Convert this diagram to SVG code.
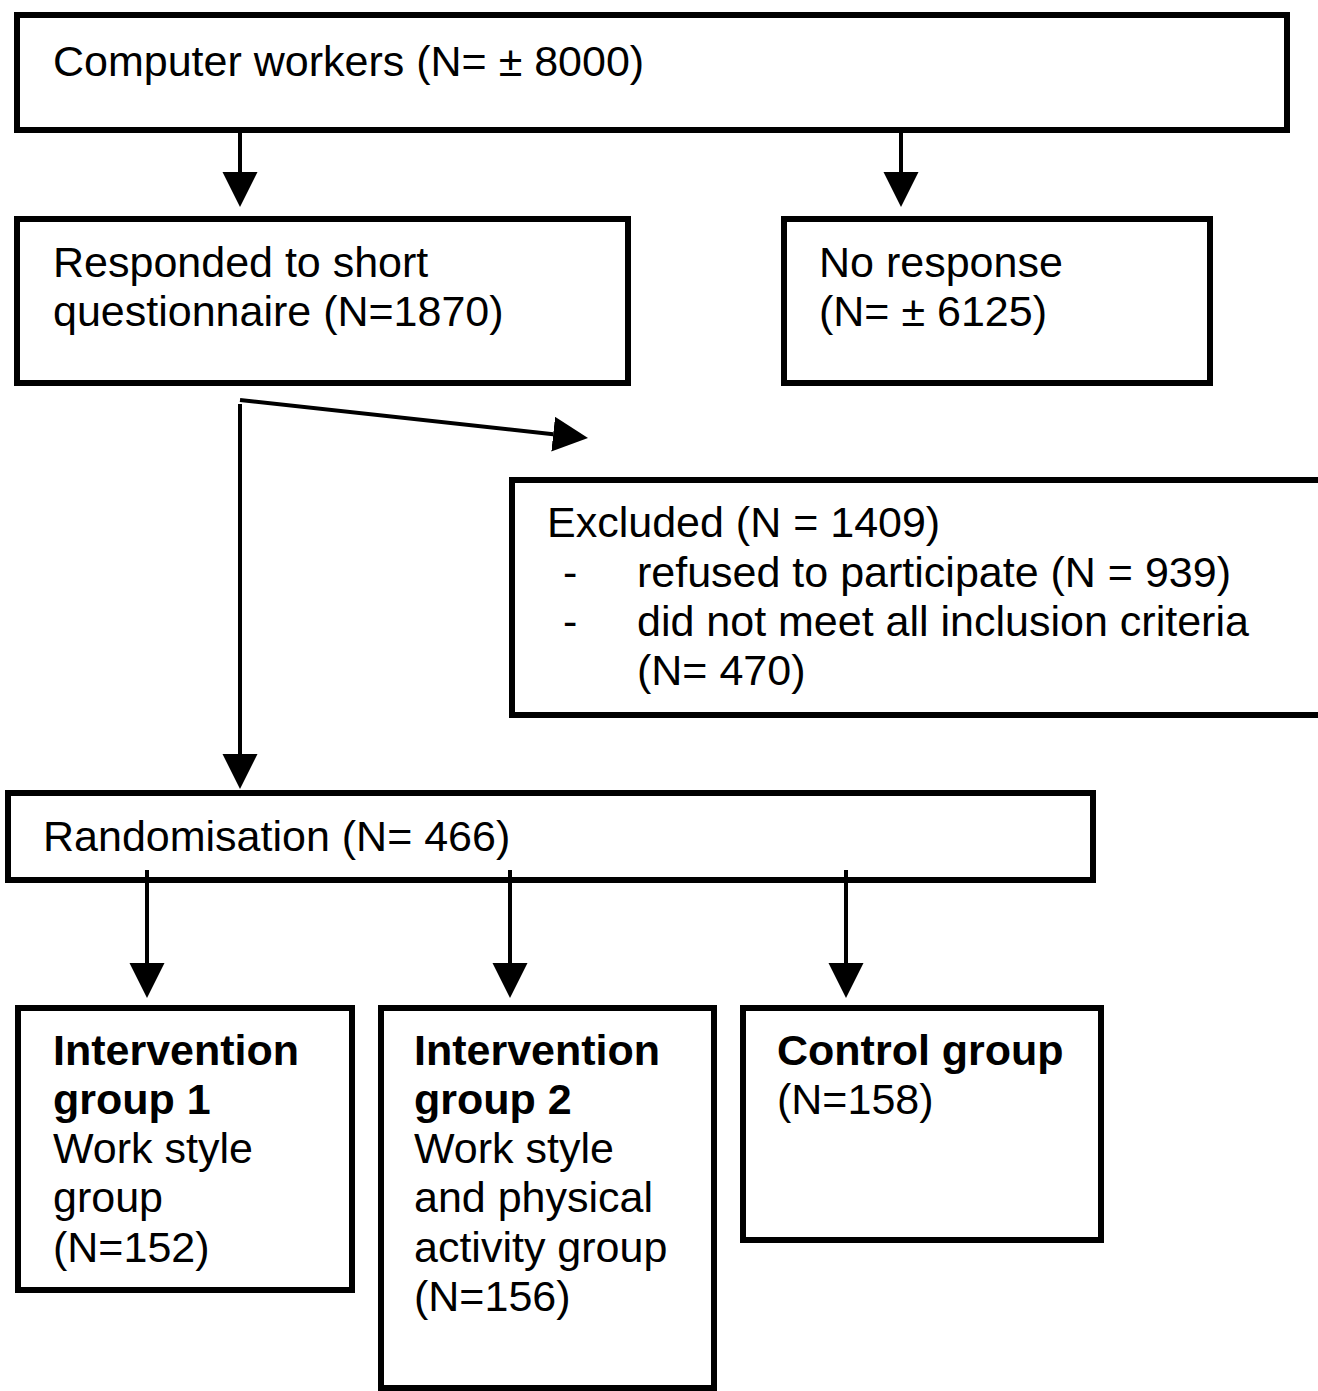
<svg xmlns="http://www.w3.org/2000/svg" width="1318" height="1391" viewBox="0 0 1318 1391">
<style>
.box{fill:#fff;stroke:#000;stroke-width:6}
.t{font-family:"Liberation Sans",Arial,sans-serif;font-size:43px;fill:#000}
.b{font-weight:bold}
.c{stroke:#000;stroke-width:4;fill:none}
</style>
<defs>
<marker id="ah" markerUnits="userSpaceOnUse" markerWidth="36" markerHeight="36" refX="0" refY="17.5" orient="auto">
<path d="M0,0 L35,17.5 L0,35 Z" fill="#000"/>
</marker>
</defs>
<rect width="1318" height="1391" fill="#fff"/>
<g id="n-computer">
<rect class="box" x="17" y="15" width="1270" height="115"/>
<text class="t" x="53" y="76">Computer workers (N= ± 8000)</text>
</g>
<g id="n-responded">
<rect class="box" x="17" y="219" width="611" height="164"/>
<text class="t" x="53" y="277">Responded to short</text>
<text class="t" x="53" y="326">questionnaire (N=1870)</text>
</g>
<g id="n-noresponse">
<rect class="box" x="784" y="219" width="426" height="164"/>
<text class="t" x="819" y="277">No response</text>
<text class="t" x="819" y="326">(N= ± 6125)</text>
</g>
<g id="n-excluded">
<rect class="box" x="512" y="480" width="820" height="235"/>
<text class="t" x="547" y="537">Excluded (N = 1409)</text>
<text class="t" x="563" y="587">-</text>
<text class="t" x="637" y="587">refused to participate (N = 939)</text>
<text class="t" x="563" y="636">-</text>
<text class="t" x="637" y="636">did not meet all inclusion criteria</text>
<text class="t" x="637" y="685">(N= 470)</text>
</g>
<g id="n-random">
<rect class="box" x="8" y="793" width="1085" height="87"/>
<text class="t" x="43" y="851">Randomisation (N= 466)</text>
</g>
<g id="n-int1">
<rect class="box" x="18" y="1008" width="334" height="282"/>
<text class="t b" x="53" y="1065">Intervention</text>
<text class="t b" x="53" y="1114">group 1</text>
<text class="t" x="53" y="1163">Work style</text>
<text class="t" x="53" y="1212">group</text>
<text class="t" x="53" y="1262">(N=152)</text>
</g>
<g id="n-int2">
<rect class="box" x="381" y="1008" width="333" height="380"/>
<text class="t b" x="414" y="1065">Intervention</text>
<text class="t b" x="414" y="1114">group 2</text>
<text class="t" x="414" y="1163">Work style</text>
<text class="t" x="414" y="1212">and physical</text>
<text class="t" x="414" y="1262">activity group</text>
<text class="t" x="414" y="1311">(N=156)</text>
</g>
<g id="n-control">
<rect class="box" x="743" y="1008" width="358" height="232"/>
<text class="t b" x="777" y="1065">Control group</text>
<text class="t" x="777" y="1114">(N=158)</text>
</g>
<g id="connectors">
<line class="c" x1="240" y1="133" x2="240" y2="172" marker-end="url(#ah)"/>
<line class="c" x1="901" y1="133" x2="901" y2="172" marker-end="url(#ah)"/>
<line class="c" x1="240" y1="400" x2="553.2" y2="434.2" marker-end="url(#ah)"/>
<line class="c" x1="240" y1="404" x2="240" y2="754" marker-end="url(#ah)"/>
<line class="c" x1="147" y1="870" x2="147" y2="963" marker-end="url(#ah)"/>
<line class="c" x1="510" y1="870" x2="510" y2="963" marker-end="url(#ah)"/>
<line class="c" x1="846" y1="870" x2="846" y2="963" marker-end="url(#ah)"/>
</g>
</svg>
